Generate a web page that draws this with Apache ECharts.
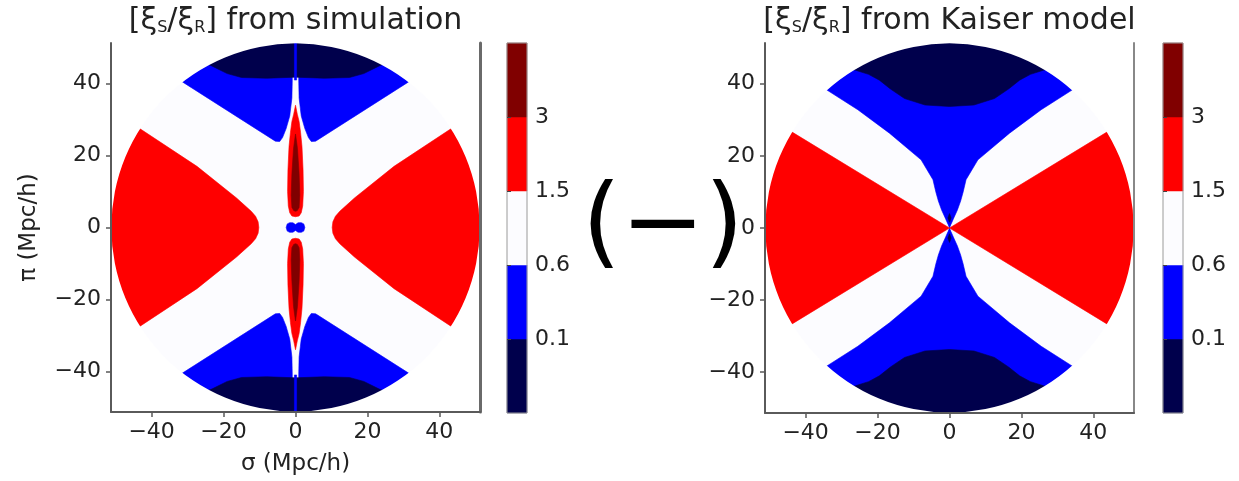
<!DOCTYPE html>
<html>
<head>
<meta charset="utf-8">
<script src="https://cdn.jsdelivr.net/npm/echarts@6/dist/echarts.min.js"></script>
<style>
  html, body { margin: 0; padding: 0; background: #ffffff; }
  #chart { width: 1239px; height: 481px; }
</style>
</head>
<body>
<div id="chart"></div>
<script>
// ---- axis setup -------------------------------------------------------
const AXIS_LIM = 51.3;                 // sigma / pi range shown, Mpc/h
const DISK_R = 51.2;                   // radius of the measured region
const TICK_VALUES = [-40, -20, 0, 20, 40];

// ---- colour levels of xi_S / xi_R ------------------------------------
const LEVEL_LABELS = ['0.1', '0.6', '1.5', '3'];
const LEVEL_COLORS = ['#00004c', '#0000ff', '#fcfcff', '#ff0000', '#800000'];

const PANEL_TITLES = [
  '{t|[ξ}{s|S}{t|/ξ}{s|R}{t|] from simulation}',
  '{t|[ξ}{s|S}{t|/ξ}{s|R}{t|] from Kaiser model}'
];

// ---- simulation: level boundaries in the first quadrant (sigma, pi) --
// red lobe (>1.5) on the sigma axis, upper half
const simRedLobe = [[10.2, 0], [10.4, 1.6], [11.1, 3.1], [12.3, 4.5], [16.4, 8.2],
  [27.4, 17.0], [43.0, 27.3], [60, 39], [60, 0]];
// blue wedge (0.1 - 0.6) above the white band
const simBlueWedge = [[0.9, 60], [0.9, 41], [1.0, 36], [1.6, 31], [2.6, 27.5], [3.6, 25],
  [4.4, 23.9], [5.6, 24.0], [31.0, 40.2], [48, 51.3], [48, 60]];
// navy cap (<0.1) at large pi
const simNavyCap = [[0, 41.8], [8, 41.5], [15, 41.7], [19, 42.8], [23, 44.8],
  [35, 50], [35, 60], [0, 60]];
// thin line along sigma = 0 through the cap
const simAxisLine = [[0, 41], [0.3, 41], [0.3, 60], [0, 60]];
// finger-of-god spindle along the pi axis (>1.5) and its core (>3)
const simSpindle = [[0, 34], [0.5, 31.5], [1.0, 29.5], [1.4, 26.5], [1.8, 22.5], [2.1, 16],
  [2.2, 10], [2.0, 6], [1.6, 4.1], [1.0, 3.2], [0, 3.0]];
const simSpindleCore = [[0, 26], [0.55, 22], [1.0, 15], [1.2, 9], [1.0, 5.6],
  [0.5, 4.7], [0, 4.5]];
// small low-ratio blob at the origin
const simCentreBlob = [[0, 0.8], [0.7, 1.3], [1.6, 1.35], [2.3, 1.0], [2.6, 0]];

// ---- Kaiser model: level boundaries in the first quadrant ------------
const kaiserBlue = [[0, 0], [0.4, 1.0], [1.2, 2.8], [2.2, 5.0], [3.1, 7.5], [3.8, 10],
  [4.6, 13.4], [7.9, 18.9], [16.7, 26.3], [25.5, 32.8], [34.3, 38.4], [48, 47.2],
  [48, 60], [0, 60]];
const kaiserNavy = [[0, 33.7], [6.8, 34.1], [12.5, 35.9], [16.5, 38.6], [19.5, 41.0],
  [22.5, 42.6], [26.6, 43.9], [40, 48], [40, 60], [0, 60]];
const kaiserRed = [[0, 0], [44.1, 26.8], [60, 36.5], [60, 0]];
const kaiserSpeck = [[0, 1.6], [0.45, 2.8], [0, 4.0]];

// ---- symmetry helpers: the ratio is symmetric in sigma and in pi -----
const flipS = pts => pts.map(([s, p]) => [-s, p]);
const flipP = pts => pts.map(([s, p]) => [s, -p]);
const joinS = pts => pts.concat(flipS(pts).reverse());   // close across sigma = 0
const joinP = pts => pts.concat(flipP(pts).reverse());   // close across pi = 0
const quad4 = P => [P, flipS(P), flipP(P), flipS(flipP(P))];
const topBottom = P => { const q = joinS(P); return [q, flipP(q)]; };
const leftRight = P => { const q = joinP(P); return [q, flipS(q)]; };
const fullSquare = [[-60, -60], [60, -60], [60, 60], [-60, 60]];

const [NAVY, BLUE, WHITE, RED, DARKRED] = LEVEL_COLORS;

const simLayers = [
  { c: WHITE, polys: [fullSquare] },
  { c: BLUE, polys: quad4(simBlueWedge) },
  { c: NAVY, polys: topBottom(simNavyCap) },
  { c: BLUE, polys: topBottom(simAxisLine) },
  { c: RED, polys: leftRight(simRedLobe) },
  { c: RED, polys: topBottom(simSpindle) },
  { c: DARKRED, polys: topBottom(simSpindleCore) },
  { c: BLUE, polys: [joinS(joinP(simCentreBlob))] }
];
const kaiserLayers = [
  { c: WHITE, polys: [fullSquare] },
  { c: BLUE, polys: topBottom(kaiserBlue) },
  { c: NAVY, polys: topBottom(kaiserNavy) },
  { c: RED, polys: leftRight(kaiserRed) },
  { c: NAVY, polys: topBottom(kaiserSpeck) }
];

const flatten = layers => layers.flatMap(l => l.polys.map(p => ({ c: l.c, p })));

const FONT = "'DejaVu Sans', sans-serif";
const TEXT = '#222222';
const SPINE = '#5a5a5a';
const fmtTick = v => String(v).replace('-', '\u2212');

// ---- layout (pixels) --------------------------------------------------
const PLOT_LEFT = [111, 765];
const CBAR_LEFT = [507, 1163];
const TOP = 43, SIZE_W = 369, SIZE_H = 370, CBAR_W = 20;

const grids = [], xAxes = [], yAxes = [], series = [];

function regionSeries(items, xi, yi) {
  return {
    type: 'custom', xAxisIndex: xi, yAxisIndex: yi, clip: true, silent: true, z: 2,
    data: items.map((_, i) => [i, 0]),
    renderItem: (params, api) => {
      const it = items[params.dataIndex];
      return {
        type: 'polygon',
        shape: { points: it.p.map(v => api.coord(v)) },
        style: { fill: it.c, stroke: it.c, lineWidth: 0.6 }
      };
    }
  };
}

// white outside the circular region
function maskSeries(xi, yi) {
  return {
    type: 'custom', xAxisIndex: xi, yAxisIndex: yi, clip: true, silent: true, z: 3,
    data: [[0, 0]],
    renderItem: (params, api) => {
      const cs = params.coordSys;
      const c = api.coord([0, 0]);
      const e = api.coord([DISK_R, DISK_R]);
      const rx = e[0] - c[0], ry = c[1] - e[1];
      const x0 = cs.x, y0 = cs.y, x1 = cs.x + cs.width, y1 = cs.y + cs.height;
      const d = `M${x0} ${y0}L${x1} ${y0}L${x1} ${y1}L${x0} ${y1}Z` +
        `M${c[0] + rx} ${c[1]}A${rx} ${ry} 0 1 0 ${c[0] - rx} ${c[1]}` +
        `A${rx} ${ry} 0 1 0 ${c[0] + rx} ${c[1]}Z`;
      return {
        type: 'path',
        shape: { pathData: d, x: x0, y: y0, width: cs.width, height: cs.height },
        style: { fill: '#ffffff', stroke: null }
      };
    }
  };
}

function colorbarSeries(xi, yi) {
  const pieces = LEVEL_COLORS.map((c, i) => [i, i + 1, i]);
  return {
    type: 'custom', xAxisIndex: xi, yAxisIndex: yi, silent: true, z: 2,
    data: pieces.concat([[0, LEVEL_COLORS.length, -1]]),
    renderItem: (params, api) => {
      const lo = api.value(0), hi = api.value(1), ci = api.value(2);
      const a = api.coord([0, hi]), b = api.coord([1, lo]);
      const shape = { x: a[0], y: a[1], width: b[0] - a[0], height: b[1] - a[1] };
      if (ci < 0) {
        return { type: 'rect', shape, style: { fill: null, stroke: '#9a9a9a', lineWidth: 1 } };
      }
      return { type: 'rect', shape, style: { fill: LEVEL_COLORS[ci], stroke: LEVEL_COLORS[ci], lineWidth: 0.5 } };
    }
  };
}

const panels = [flatten(simLayers), flatten(kaiserLayers)];

panels.forEach((items, k) => {
  const gPlot = grids.length;
  grids.push({ left: PLOT_LEFT[k], top: TOP, width: SIZE_W, height: SIZE_H, containLabel: false });
  const gBar = grids.length;
  grids.push({ left: CBAR_LEFT[k], top: TOP, width: CBAR_W, height: SIZE_H, containLabel: false });

  const xi = xAxes.length;
  xAxes.push({
    gridIndex: gPlot, type: 'value', min: -AXIS_LIM, max: AXIS_LIM, z: 10,
    axisLine: { onZero: false, lineStyle: { color: SPINE, width: 2 } },
    axisTick: { customValues: TICK_VALUES, length: 5, lineStyle: { color: SPINE, width: 1.5 } },
    axisLabel: { customValues: TICK_VALUES, formatter: fmtTick, fontSize: 22, color: TEXT,
      fontFamily: FONT, margin: 9 },
    splitLine: { show: false },
    name: k === 0 ? 'σ (Mpc/h)' : '', nameLocation: 'middle', nameGap: 41,
    nameTextStyle: { fontSize: 23, color: TEXT, fontFamily: FONT }
  });
  const xb = xAxes.length;
  xAxes.push({ gridIndex: gBar, type: 'value', min: 0, max: 1, show: false });

  const yi = yAxes.length;
  yAxes.push({
    gridIndex: gPlot, type: 'value', min: -AXIS_LIM, max: AXIS_LIM, position: 'left', z: 10,
    axisLine: { show: true, onZero: false, lineStyle: { color: SPINE, width: 2 } },
    axisTick: { customValues: TICK_VALUES, length: 5, lineStyle: { color: SPINE, width: 1.5 } },
    axisLabel: { customValues: TICK_VALUES, formatter: fmtTick, fontSize: 22, color: TEXT,
      fontFamily: FONT, margin: 10 },
    splitLine: { show: false },
    name: k === 0 ? 'π (Mpc/h)' : '', nameLocation: 'middle', nameGap: 70, nameRotate: 90,
    nameTextStyle: { fontSize: 23, color: TEXT, fontFamily: FONT }
  });
  yAxes.push({
    gridIndex: gPlot, type: 'value', min: -AXIS_LIM, max: AXIS_LIM, position: 'right', z: 10,
    axisLine: { show: true, onZero: false, lineStyle: { color: k === 0 ? '#6a6a6a' : '#888888', width: k === 0 ? 3 : 2 } },
    axisTick: { show: false }, axisLabel: { show: false }, splitLine: { show: false }
  });
  const yb = yAxes.length;
  yAxes.push({
    gridIndex: gBar, type: 'value', min: 0, max: LEVEL_COLORS.length, position: 'right', z: 10,
    axisLine: { show: false },
    axisTick: { customValues: [1, 2, 3, 4], length: 4, lineStyle: { color: '#444', width: 1 } },
    axisLabel: { customValues: [1, 2, 3, 4], formatter: v => LEVEL_LABELS[v - 1],
      fontSize: 22, color: TEXT, fontFamily: FONT, margin: 8 },
    splitLine: { show: false }
  });

  series.push(regionSeries(items, xi, yi));
  series.push(maskSeries(xi, yi));
  series.push(colorbarSeries(xb, yb));
});

const chart = echarts.init(document.getElementById('chart'), null, { renderer: 'canvas' });
chart.setOption({
  animation: false,
  backgroundColor: '#ffffff',
  title: PANEL_TITLES.map((t, k) => ({
    text: t,
    left: PLOT_LEFT[k] + SIZE_W / 2,
    textAlign: 'center',
    top: 0,
    padding: 0,
    textStyle: {
      fontWeight: 'normal',
      rich: {
        t: { fontSize: 30, fontWeight: 'normal', fontFamily: FONT, color: TEXT, lineHeight: 36, verticalAlign: 'bottom' },
        s: { fontSize: 16, fontWeight: 'normal', fontFamily: FONT, color: TEXT, lineHeight: 15, verticalAlign: 'bottom' }
      }
    }
  })),
  grid: grids,
  xAxis: xAxes,
  yAxis: yAxes,
  series: series,
  graphic: [{
    type: 'text',
    style: {
      text: '(\u2212)', x: 582, y: 229,
      font: "100px 'DejaVu Sans', sans-serif",
      fill: '#000000', textAlign: 'left', verticalAlign: 'middle', textVerticalAlign: 'middle'
    }
  }]
});
</script>
</body>
</html>
